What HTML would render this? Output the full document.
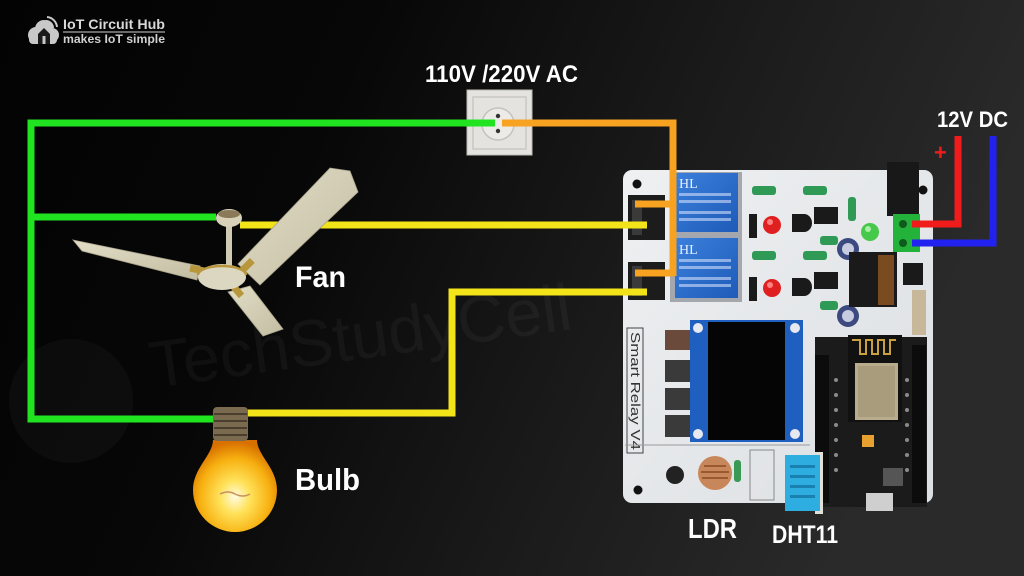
<!DOCTYPE html>
<html><head><meta charset="utf-8"><style>
html,body{margin:0;padding:0;background:#000;}
body{width:1024px;height:576px;overflow:hidden;}
svg{display:block;}
</style></head><body>
<svg width="1024" height="576" viewBox="0 0 1024 576" xmlns="http://www.w3.org/2000/svg">
<defs>
<linearGradient id="bg" x1="0" y1="0" x2="1" y2="0.25">
<stop offset="0" stop-color="#030303"/><stop offset="0.35" stop-color="#070707"/><stop offset="0.7" stop-color="#1b1b1b"/><stop offset="1" stop-color="#2a2a2a"/>
</linearGradient>
<radialGradient id="glass" cx="0.5" cy="0.62" r="0.6">
<stop offset="0" stop-color="#fffbe0"/><stop offset="0.3" stop-color="#ffe25a"/><stop offset="0.7" stop-color="#f7b010"/><stop offset="1" stop-color="#d87000"/>
</radialGradient>
<linearGradient id="blade" x1="0" y1="0" x2="1" y2="1">
<stop offset="0" stop-color="#e2ddc6"/><stop offset="1" stop-color="#c2bda2"/>
</linearGradient>
<linearGradient id="relay" x1="0" y1="0" x2="1" y2="1">
<stop offset="0" stop-color="#3a80dc"/><stop offset="1" stop-color="#1f5bb8"/>
</linearGradient>
<linearGradient id="boardg" x1="0" y1="0" x2="1" y2="1">
<stop offset="0" stop-color="#eef0f2"/><stop offset="1" stop-color="#dcdfe2"/>
</linearGradient>
</defs>
<rect width="1024" height="576" fill="url(#bg)"/>

<!-- watermark -->
<circle cx="71" cy="401" r="62" fill="#ffffff" fill-opacity="0.03"/>
<text x="153" y="388" transform="rotate(-8 153 388)" font-family="Liberation Sans, sans-serif" font-size="66" fill="#ffffff" fill-opacity="0.04" textLength="425" lengthAdjust="spacingAndGlyphs">TechStudyCell</text>

<!-- logo -->
<g fill="#c8c8c8">
<circle cx="36" cy="35" r="8"/><circle cx="44" cy="29" r="9"/><circle cx="52" cy="35" r="7"/>
<rect x="29" y="34" width="28" height="10" rx="4"/>
</g>
<path d="M38 44 V34 L44 28 L50 34 V44 Z" fill="#1a1a1a"/>
<rect x="42.5" y="36" width="3" height="8" fill="#c8c8c8"/>
<path d="M46 21 A7 7 0 0 1 53 28 M47 17 A11 11 0 0 1 57 27" stroke="#c8c8c8" stroke-width="2" fill="none"/>
<text x="63" y="29" font-family="Liberation Sans, sans-serif" font-weight="bold" font-size="14" fill="#d8d8d8" textLength="102" lengthAdjust="spacingAndGlyphs">IoT Circuit Hub</text>
<line x1="63" y1="32" x2="165" y2="32" stroke="#cfcfcf" stroke-width="1"/>
<text x="63" y="43" font-family="Liberation Sans, sans-serif" font-weight="bold" font-size="11.5" fill="#d0d0d0" textLength="102" lengthAdjust="spacingAndGlyphs">makes IoT simple</text>

<!-- socket -->
<rect x="467" y="90" width="65" height="65" fill="#e4e3df" stroke="#bdbcb6" stroke-width="1"/>
<rect x="473" y="97" width="53" height="52" fill="none" stroke="#c9c8c2" stroke-width="1.5"/>
<circle cx="498" cy="124" r="16" fill="#ecebe7" stroke="#c4c3bd" stroke-width="1.5"/>
<circle cx="498" cy="116" r="2.2" fill="#333"/><circle cx="498" cy="131" r="2.2" fill="#333"/>

<!-- PCB board -->
<rect x="623" y="170" width="310" height="333" rx="9" fill="url(#boardg)"/>
<circle cx="637" cy="184" r="4.5" fill="#111"/>
<circle cx="923" cy="190" r="4.5" fill="#111"/>
<circle cx="638" cy="490" r="4.5" fill="#111"/>
<!-- terminal blocks -->
<rect x="628" y="195" width="37" height="45" fill="#1c1c1c"/>
<rect x="632" y="200" width="10" height="35" fill="#3a3a3a"/>
<rect x="628" y="262" width="37" height="38" fill="#1c1c1c"/>
<rect x="632" y="266" width="10" height="30" fill="#3a3a3a"/>
<!-- relays -->
<rect x="670" y="172" width="72" height="130" fill="#a4a8ae"/>
<rect x="675" y="173" width="63" height="59" fill="url(#relay)"/>
<rect x="675" y="238" width="63" height="60" fill="url(#relay)"/>
<g font-family="Liberation Serif, serif" fill="#e8f0ff" font-size="14"><text x="679" y="188">HL</text><text x="679" y="254">HL</text></g>
<g fill="#d0defa" fill-opacity="0.6"><rect x="679" y="193" width="52" height="3"/><rect x="679" y="200" width="52" height="3"/><rect x="679" y="211" width="52" height="3"/><rect x="679" y="218" width="52" height="3"/>
<rect x="679" y="259" width="52" height="3"/><rect x="679" y="266" width="52" height="3"/><rect x="679" y="277" width="52" height="3"/><rect x="679" y="284" width="52" height="3"/></g>
<!-- small components -->
<g fill="#2f9a55"><rect x="752" y="186" width="24" height="9" rx="3"/><rect x="803" y="186" width="24" height="9" rx="3"/><rect x="752" y="251" width="24" height="9" rx="3"/><rect x="803" y="251" width="24" height="9" rx="3"/>
<rect x="848" y="197" width="8" height="24" rx="3"/><rect x="820" y="236" width="18" height="9" rx="3"/><rect x="820" y="301" width="18" height="9" rx="3"/></g>
<g fill="#1a1a1a"><rect x="749" y="214" width="8" height="24"/><rect x="749" y="277" width="8" height="24"/>
<path d="M792 214 h12 a8 9 0 0 1 0 18 h-12z"/><path d="M792 278 h12 a8 9 0 0 1 0 18 h-12z"/>
<rect x="814" y="207" width="24" height="17"/><rect x="814" y="272" width="24" height="17"/>
<rect x="903" y="263" width="20" height="22"/></g>
<circle cx="772" cy="225" r="9" fill="#e02020"/><circle cx="770" cy="222" r="3" fill="#ff8080"/>
<circle cx="772" cy="288" r="9" fill="#e02020"/><circle cx="770" cy="285" r="3" fill="#ff8080"/>
<circle cx="870" cy="232" r="9" fill="#46c84a"/><circle cx="868" cy="229" r="3" fill="#a8f0a8"/>
<circle cx="848" cy="249" r="11" fill="#3c4a80"/><circle cx="848" cy="249" r="6" fill="#c8cce0"/>
<circle cx="848" cy="316" r="11" fill="#3c4a80"/><circle cx="848" cy="316" r="6" fill="#c8cce0"/>
<rect x="849" y="252" width="48" height="55" fill="#1a1a1a"/>
<rect x="878" y="255" width="16" height="50" fill="#7a4a20"/>
<rect x="887" y="162" width="32" height="54" fill="#181818"/>
<rect x="893" y="214" width="27" height="38" fill="#23b33a"/>
<circle cx="903" cy="224" r="4" fill="#0f5a1d"/><circle cx="903" cy="243" r="4" fill="#0f5a1d"/>
<rect x="912" y="290" width="14" height="45" fill="#c8b89a"/>
<!-- OLED & buttons -->
<rect x="627" y="328" width="16" height="125" fill="none" stroke="#444" stroke-width="1"/>
<text transform="translate(631 332) rotate(90)" font-family="Liberation Sans, sans-serif" font-size="13" fill="#333" textLength="118" lengthAdjust="spacingAndGlyphs">Smart Relay V4</text>
<rect x="665" y="330" width="25" height="20" fill="#6a4a3a"/>
<rect x="665" y="360" width="25" height="22" fill="#3a3a3a"/>
<rect x="665" y="388" width="25" height="22" fill="#3a3a3a"/>
<rect x="665" y="415" width="25" height="22" fill="#3a3a3a"/>
<rect x="690" y="320" width="113" height="122" fill="#1f5fc0"/>
<rect x="708" y="322" width="77" height="118" fill="#050505"/>
<g fill="#e8e8f0"><circle cx="698" cy="328" r="5"/><circle cx="795" cy="328" r="5"/><circle cx="698" cy="434" r="5"/><circle cx="795" cy="434" r="5"/></g>
<!-- LDR / DHT area -->
<line x1="625" y1="445" x2="810" y2="445" stroke="#9a9a9a" stroke-width="1"/>
<circle cx="715" cy="473" r="17" fill="#c8875a"/>
<g stroke="#8a4a20" stroke-width="1.5"><line x1="704" y1="466" x2="726" y2="466"/><line x1="701" y1="472" x2="729" y2="472"/><line x1="702" y1="478" x2="728" y2="478"/></g>
<rect x="734" y="460" width="7" height="22" rx="3" fill="#3a9a55"/>
<rect x="750" y="450" width="24" height="50" fill="none" stroke="#888" stroke-width="1"/>
<circle cx="675" cy="475" r="9" fill="#222"/>
<!-- NodeMCU -->
<rect x="815" y="337" width="112" height="170" fill="#1b1b1b"/>
<rect x="815" y="355" width="14" height="148" fill="#0c0c0c"/>
<rect x="912" y="345" width="14" height="158" fill="#0c0c0c"/>
<g fill="#8a8a8a"><circle cx="836" cy="380" r="2"/><circle cx="836" cy="395" r="2"/><circle cx="836" cy="410" r="2"/><circle cx="836" cy="425" r="2"/><circle cx="836" cy="440" r="2"/><circle cx="836" cy="455" r="2"/><circle cx="836" cy="470" r="2"/>
<circle cx="907" cy="380" r="2"/><circle cx="907" cy="395" r="2"/><circle cx="907" cy="410" r="2"/><circle cx="907" cy="425" r="2"/><circle cx="907" cy="440" r="2"/><circle cx="907" cy="455" r="2"/><circle cx="907" cy="470" r="2"/></g>
<rect x="848" y="335" width="54" height="87" fill="#111"/>
<path d="M852 340 h8 v14 h6 v-14 h6 v14 h6 v-14 h6 v14 h6 v-14 h6" stroke="#c8a040" stroke-width="2" fill="none"/>
<rect x="855" y="363" width="43" height="57" fill="#b8ac8c"/>
<rect x="858" y="366" width="37" height="51" fill="#a89c7c"/>
<rect x="862" y="435" width="12" height="12" fill="#e8a030"/>
<rect x="883" y="468" width="20" height="18" fill="#555"/>
<rect x="866" y="493" width="27" height="18" fill="#cfcfcf"/>
<!-- DHT11 -->
<rect x="815" y="452" width="8" height="62" fill="#e0e0d8"/>
<rect x="785" y="455" width="35" height="56" fill="#2eaee0"/>
<g fill="#1a80b0"><rect x="790" y="465" width="25" height="3"/><rect x="790" y="475" width="25" height="3"/><rect x="790" y="485" width="25" height="3"/><rect x="790" y="495" width="25" height="3"/></g>

<!-- wires -->
<g fill="none" stroke-width="7" stroke-linecap="butt" stroke-linejoin="miter">
<path d="M495 123 H31 V419 H216" stroke="#1fe41f"/>
<path d="M31 217 H216" stroke="#1fe41f"/>
<path d="M240 225 H647" stroke="#f3e41a"/>
<path d="M246 413 H452 V292 H647" stroke="#f3e41a"/>
<path d="M502 123 H673 V276" stroke="#f7a321"/>
<path d="M635 204 H673 M635 273 H673" stroke="#f7a321"/>
<path d="M912 224 H958 V136" stroke="#f01c1c"/>
<path d="M912 243 H993 V136" stroke="#2222f0"/>
</g>
<text x="934" y="160" font-family="Liberation Sans, sans-serif" font-weight="bold" font-size="22" fill="#f01c1c">+</text>

<!-- fan -->
<g stroke="#a8a38a" stroke-width="0.8">
<polygon points="73,240 200,266 197,280 82,251" fill="url(#blade)"/>
<polygon points="238,264 330,168 350,171 358,192 260,285" fill="url(#blade)"/>
<polygon points="228,292 250,286 283,329 263,336" fill="url(#blade)"/>
</g>
<rect x="226" y="225" width="6" height="45" fill="#cfcab2"/>
<ellipse cx="229" cy="218" rx="13" ry="9" fill="#d6d1b8"/>
<ellipse cx="229" cy="214" rx="11" ry="4" fill="#8a7a5a"/>
<rect x="190" y="266" width="14" height="7" fill="#b8963c" transform="rotate(12 197 269)"/>
<rect x="240" y="262" width="14" height="7" fill="#b8963c" transform="rotate(-45 247 265)"/>
<rect x="232" y="288" width="12" height="7" fill="#b8963c" transform="rotate(50 238 291)"/>
<ellipse cx="222" cy="277" rx="24" ry="13" fill="#dcd7c0"/>
<path d="M198 275 A24 9 0 0 1 246 275" stroke="#b8963c" stroke-width="2.5" fill="none"/>

<!-- bulb -->
<path d="M213 440 C213 455 193 468 193 490 A42 42 0 0 0 277 490 C277 468 257 455 257 440 Z" fill="url(#glass)"/>
<rect x="213" y="407" width="35" height="34" rx="4" fill="#7a6a50"/>
<g stroke="#4a3e2c" stroke-width="2"><line x1="214" y1="414" x2="247" y2="414"/><line x1="214" y1="421" x2="247" y2="421"/><line x1="214" y1="428" x2="247" y2="428"/><line x1="214" y1="435" x2="247" y2="435"/></g>
<path d="M220 494 q8 -4 15 0 q8 4 15 0" stroke="#c89060" stroke-width="1.5" fill="none"/>

<!-- labels -->
<g font-family="Liberation Sans, sans-serif" font-weight="bold" fill="#ffffff">
<text x="425" y="82" font-size="24" textLength="153" lengthAdjust="spacingAndGlyphs">110V /220V AC</text>
<text x="937" y="127" font-size="22" textLength="71" lengthAdjust="spacingAndGlyphs">12V DC</text>
<text x="295" y="287" font-size="30" textLength="51" lengthAdjust="spacingAndGlyphs">Fan</text>
<text x="295" y="490" font-size="31" textLength="65" lengthAdjust="spacingAndGlyphs">Bulb</text>
<text x="688" y="538" font-size="28" textLength="49" lengthAdjust="spacingAndGlyphs">LDR</text>
<text x="772" y="543" font-size="25" textLength="66" lengthAdjust="spacingAndGlyphs">DHT11</text>
</g>
</svg>
</body></html>
